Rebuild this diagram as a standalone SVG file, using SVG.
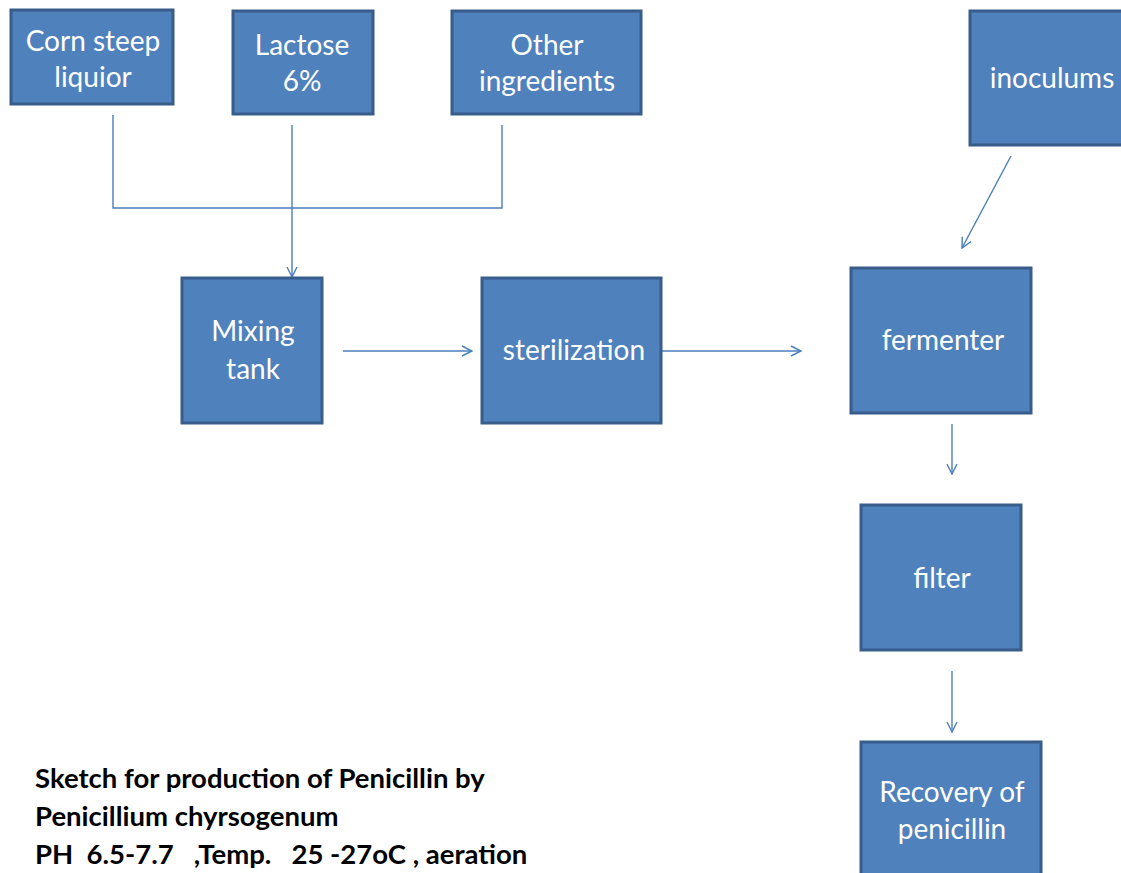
<svg xmlns="http://www.w3.org/2000/svg" width="1121" height="873" viewBox="0 0 1121 873">
<defs>
<style>
.box{fill:#4F81BD;stroke:#385D8A;stroke-width:3}
.lbl{font-family:Lato,"Open Sans","Liberation Sans",sans-serif;font-size:28px;fill:#FFFFFF;text-anchor:middle}
.con{fill:none;stroke:#4A7EBB;stroke-width:1.4}
.cap{font-family:Lato,"Liberation Sans",sans-serif;font-size:27.5px;font-weight:bold;fill:#000000}
</style>
<marker id="arr" viewBox="0 0 12 12" refX="11" refY="6" markerWidth="12" markerHeight="12" markerUnits="userSpaceOnUse" orient="auto">
<path d="M1,1 L11,6 L1,11" fill="none" stroke="#4A7EBB" stroke-width="1.4"/>
</marker>
</defs>
<rect width="1121" height="873" fill="#FFFFFF"/>
<g id="connectors">
<polyline class="con" points="113,115 113,208 502,208 502,125"/>
<line class="con" x1="292" y1="125" x2="292" y2="277" marker-end="url(#arr)"/>
<line class="con" x1="343" y1="351" x2="472" y2="351" marker-end="url(#arr)"/>
<line class="con" x1="662" y1="351" x2="801" y2="351" marker-end="url(#arr)"/>
<line class="con" x1="1011" y1="156" x2="962" y2="248" marker-end="url(#arr)"/>
<line class="con" x1="952" y1="424" x2="952" y2="474" marker-end="url(#arr)"/>
<line class="con" x1="952" y1="671" x2="952" y2="732" marker-end="url(#arr)"/>
</g>
<g id="corn-steep">
<rect class="box" x="11" y="10" width="162" height="94"/>
<text class="lbl" x="93" y="51">Corn steep</text>
<text class="lbl" x="93" y="87">liquior</text>
</g>
<g id="lactose">
<rect class="box" x="233" y="11" width="140" height="103"/>
<text class="lbl" x="302" y="55">Lactose</text>
<text class="lbl" x="302" y="91">6%</text>
</g>
<g id="other-ingredients">
<rect class="box" x="452" y="11" width="189" height="103"/>
<text class="lbl" x="547" y="55">Other</text>
<text class="lbl" x="547" y="91">ingredients</text>
</g>
<g id="inoculums">
<rect class="box" x="970" y="11" width="160" height="134"/>
<text class="lbl" x="1052" y="88">inoculums</text>
</g>
<g id="mixing-tank">
<rect class="box" x="182" y="278" width="140" height="145"/>
<text class="lbl" x="253" y="341">Mixing</text>
<text class="lbl" x="253" y="379">tank</text>
</g>
<g id="sterilization">
<rect class="box" x="482" y="278" width="179" height="145"/>
<text class="lbl" x="574" y="360">sterilization</text>
</g>
<g id="fermenter">
<rect class="box" x="851" y="268" width="180" height="145"/>
<text class="lbl" x="943" y="350">fermenter</text>
</g>
<g id="filter">
<rect class="box" x="861" y="505" width="160" height="145"/>
<text class="lbl" x="942" y="588">filter</text>
</g>
<g id="recovery">
<rect class="box" x="861" y="742" width="180" height="145"/>
<text class="lbl" x="952" y="802">Recovery of</text>
<text class="lbl" x="952" y="839">penicillin</text>
</g>
<g id="caption">
<text class="cap" x="35" y="788">Sketch for production of Penicillin by</text>
<text class="cap" x="35" y="826">Penicillium chyrsogenum</text>
<text class="cap" x="35" y="864" xml:space="preserve">PH  6.5-7.7   ,Temp.   25 -27oC , aeration</text>
</g>
</svg>
